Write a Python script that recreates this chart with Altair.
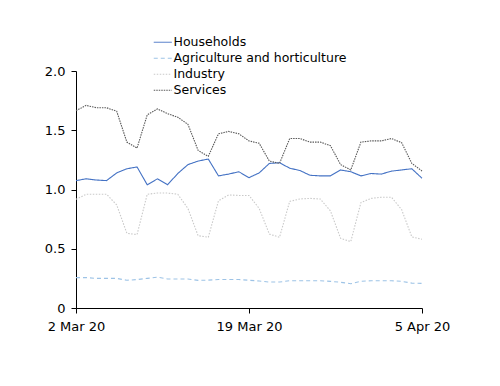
import altair as alt
import pandas as pd

dates = pd.date_range("2020-03-02", "2020-04-05", freq="D").strftime("%Y-%m-%d").tolist()

series_names = ["Households", "Agriculture and horticulture", "Industry", "Services"]

households = [1.075, 1.09, 1.08, 1.075, 1.14, 1.175, 1.19, 1.04, 1.09, 1.04,
              1.135, 1.21, 1.24, 1.257, 1.115, 1.13, 1.15, 1.10, 1.14, 1.22,
              1.226, 1.18, 1.16, 1.12, 1.115, 1.115, 1.165, 1.15, 1.115, 1.135,
              1.13, 1.155, 1.165, 1.175, 1.095]
agriculture = [0.256, 0.257, 0.25, 0.25, 0.25, 0.234, 0.24, 0.25, 0.26, 0.245,
               0.245, 0.245, 0.233, 0.235, 0.24, 0.24, 0.24, 0.234, 0.228, 0.219,
               0.219, 0.23, 0.23, 0.23, 0.23, 0.225, 0.217, 0.205, 0.225, 0.23,
               0.23, 0.23, 0.225, 0.21, 0.208]
industry = [0.917, 0.96, 0.96, 0.96, 0.87, 0.63, 0.62, 0.96, 0.97, 0.97,
            0.96, 0.84, 0.61, 0.597, 0.905, 0.954, 0.95, 0.95, 0.84, 0.624,
            0.597, 0.90, 0.92, 0.925, 0.92, 0.82, 0.588, 0.56, 0.89, 0.925,
            0.935, 0.935, 0.83, 0.60, 0.58]
services = [1.665, 1.71, 1.69, 1.69, 1.66, 1.40, 1.35, 1.63, 1.68, 1.64,
            1.61, 1.55, 1.33, 1.28, 1.47, 1.49, 1.47, 1.41, 1.39, 1.24,
            1.22, 1.43, 1.43, 1.40, 1.40, 1.37, 1.21, 1.165, 1.40, 1.41,
            1.41, 1.43, 1.395, 1.22, 1.156]

rows = []
for name, vals in zip(series_names, [households, agriculture, industry, services]):
    for d, v in zip(dates, vals):
        rows.append({"date": d, "value": v, "series": name})
df = pd.DataFrame(rows)

colors = ["#4472C4", "#9DC3E6", "#C9C9C9", "#595959"]
dashes = [[1, 0], [4, 3], [1.5, 1.5], [1.5, 1]]

font = "DejaVu Sans"

chart = alt.Chart(df).mark_line(strokeWidth=1.1).encode(
    x=alt.X("date:T",
            scale=alt.Scale(type="utc",
                            domain=[alt.DateTime(year=2020, month=3, date=2, utc=True),
                                    alt.DateTime(year=2020, month=4, date=5, utc=True)]),
            axis=alt.Axis(title=None, format="%-d %b %y", grid=False,
                          values=[alt.DateTime(year=2020, month=3, date=2, utc=True),
                                  alt.DateTime(year=2020, month=3, date=19, utc=True),
                                  alt.DateTime(year=2020, month=4, date=5, utc=True)],
                          labelFlush=False, labelOverlap=False)),
    y=alt.Y("value:Q", scale=alt.Scale(domain=[0, 2], nice=False),
            axis=alt.Axis(title=None, grid=False, values=[0, 0.5, 1, 1.5, 2],
                          labelExpr="datum.value == 0 ? '0' : format(datum.value, '.1f')")),
    color=alt.Color("series:N", scale=alt.Scale(domain=series_names, range=colors),
                    legend=alt.Legend(title=None, orient="none", legendX=80.5, legendY=-35,
                                      symbolType="M-2,0H2", symbolSize=81,
                                      symbolStrokeWidth=1, labelFont=font,
                                      labelFontSize=12.5, labelColor="#000000",
                                      labelLimit=400,
                                      rowPadding=3, labelOffset=4.5)),
    strokeDash=alt.StrokeDash("series:N", scale=alt.Scale(domain=series_names, range=dashes),
                              legend=None),
    order=alt.Order("date:T"),
).properties(
    width=346, height=237,
    autosize=alt.AutoSizeParams(type="none"),
    padding={"left": 68, "top": 63, "right": 60, "bottom": 60},
).configure_view(
    stroke=None
).configure_axis(
    labelFont=font, labelFontSize=13, labelColor="#000000",
    domainColor="#000000", tickColor="#000000", tickSize=5,
    domainWidth=1, tickWidth=1,
).configure_axisX(
    labelPadding=7
).configure_axisY(
    labelPadding=6
)

chart.save("out.html", embed_options={"renderer": "svg", "actions": False})
